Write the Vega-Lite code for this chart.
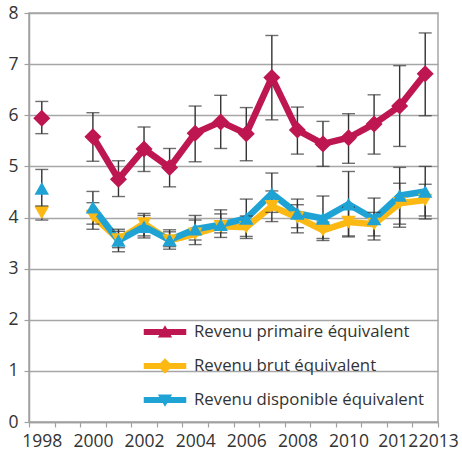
{
  "$schema": "https://vega.github.io/schema/vega-lite/v6.json",
  "width": 409,
  "height": 409,
  "autosize": "none",
  "padding": {"left": 29, "top": 13, "right": 24, "bottom": 34},
  "background": "white",
  "config": {
    "font": "Open Sans",
    "view": {"stroke": "#a6a6a6", "strokeWidth": 1.5},
    "axis": {"labelFont": "Open Sans", "labelColor": "#333333", "labelFontSize": 17.5, "domainColor": "#a0a0a0", "tickColor": "#a0a0a0", "domainWidth": 1.5, "tickWidth": 1.2, "gridColor": "#a6a6a6", "gridWidth": 1.5, "gridOpacity": 1},
    "legend": {"labelFont": "Open Sans", "labelColor": "#333333", "labelFontSize": 16.8, "labelLimit": 400}
  },
  "data": {"values": [
    {"year": "1998", "series": "Revenu primaire équivalent", "value": 5.94, "lo": 5.64, "hi": 6.27},
    {"year": "1999", "series": "Revenu primaire équivalent", "value": null, "lo": null, "hi": null},
    {"year": "2000", "series": "Revenu primaire équivalent", "value": 5.58, "lo": 5.10, "hi": 6.05},
    {"year": "2001", "series": "Revenu primaire équivalent", "value": 4.75, "lo": 4.41, "hi": 5.11},
    {"year": "2002", "series": "Revenu primaire équivalent", "value": 5.34, "lo": 4.90, "hi": 5.77},
    {"year": "2003", "series": "Revenu primaire équivalent", "value": 4.98, "lo": 4.60, "hi": 5.35},
    {"year": "2004", "series": "Revenu primaire équivalent", "value": 5.65, "lo": 5.09, "hi": 6.18},
    {"year": "2005", "series": "Revenu primaire équivalent", "value": 5.87, "lo": 5.35, "hi": 6.39},
    {"year": "2006", "series": "Revenu primaire équivalent", "value": 5.64, "lo": 5.11, "hi": 6.15},
    {"year": "2007", "series": "Revenu primaire équivalent", "value": 6.74, "lo": 5.91, "hi": 7.56},
    {"year": "2008", "series": "Revenu primaire équivalent", "value": 5.71, "lo": 5.24, "hi": 6.16},
    {"year": "2009", "series": "Revenu primaire équivalent", "value": 5.44, "lo": 5.00, "hi": 5.88},
    {"year": "2010", "series": "Revenu primaire équivalent", "value": 5.56, "lo": 5.06, "hi": 6.03},
    {"year": "2011", "series": "Revenu primaire équivalent", "value": 5.83, "lo": 5.24, "hi": 6.40},
    {"year": "2012", "series": "Revenu primaire équivalent", "value": 6.18, "lo": 5.39, "hi": 6.97},
    {"year": "2013", "series": "Revenu primaire équivalent", "value": 6.81, "lo": 5.99, "hi": 7.61},
    {"year": "1998", "series": "Revenu brut équivalent", "value": 4.09, "lo": 3.95, "hi": 4.22},
    {"year": "1999", "series": "Revenu brut équivalent", "value": null, "lo": null, "hi": null},
    {"year": "2000", "series": "Revenu brut équivalent", "value": 4.03, "lo": 3.77, "hi": 4.29},
    {"year": "2001", "series": "Revenu brut équivalent", "value": 3.57, "lo": 3.41, "hi": 3.73},
    {"year": "2002", "series": "Revenu brut équivalent", "value": 3.88, "lo": 3.64, "hi": 4.08},
    {"year": "2003", "series": "Revenu brut équivalent", "value": 3.55, "lo": 3.43, "hi": 3.72},
    {"year": "2004", "series": "Revenu brut équivalent", "value": 3.68, "lo": 3.47, "hi": 3.95},
    {"year": "2005", "series": "Revenu brut équivalent", "value": 3.83, "lo": 3.70, "hi": 4.07},
    {"year": "2006", "series": "Revenu brut équivalent", "value": 3.81, "lo": 3.59, "hi": 4.03},
    {"year": "2007", "series": "Revenu brut équivalent", "value": 4.22, "lo": 3.92, "hi": 4.52},
    {"year": "2008", "series": "Revenu brut équivalent", "value": 4.00, "lo": 3.70, "hi": 4.25},
    {"year": "2009", "series": "Revenu brut équivalent", "value": 3.75, "lo": 3.59, "hi": 3.91},
    {"year": "2010", "series": "Revenu brut équivalent", "value": 3.91, "lo": 3.64, "hi": 4.20},
    {"year": "2011", "series": "Revenu brut équivalent", "value": 3.87, "lo": 3.64, "hi": 4.10},
    {"year": "2012", "series": "Revenu brut équivalent", "value": 4.28, "lo": 3.81, "hi": 4.67},
    {"year": "2013", "series": "Revenu brut équivalent", "value": 4.34, "lo": 3.97, "hi": 4.65},
    {"year": "1998", "series": "Revenu disponible équivalent", "value": 4.57, "lo": 4.22, "hi": 4.94},
    {"year": "1999", "series": "Revenu disponible équivalent", "value": null, "lo": null, "hi": null},
    {"year": "2000", "series": "Revenu disponible équivalent", "value": 4.20, "lo": 3.87, "hi": 4.51},
    {"year": "2001", "series": "Revenu disponible équivalent", "value": 3.55, "lo": 3.33, "hi": 3.77},
    {"year": "2002", "series": "Revenu disponible équivalent", "value": 3.82, "lo": 3.60, "hi": 4.04},
    {"year": "2003", "series": "Revenu disponible équivalent", "value": 3.56, "lo": 3.38, "hi": 3.76},
    {"year": "2004", "series": "Revenu disponible équivalent", "value": 3.77, "lo": 3.56, "hi": 4.04},
    {"year": "2005", "series": "Revenu disponible équivalent", "value": 3.86, "lo": 3.61, "hi": 4.15},
    {"year": "2006", "series": "Revenu disponible équivalent", "value": 3.98, "lo": 3.63, "hi": 4.36},
    {"year": "2007", "series": "Revenu disponible équivalent", "value": 4.47, "lo": 4.10, "hi": 4.87},
    {"year": "2008", "series": "Revenu disponible équivalent", "value": 4.08, "lo": 3.80, "hi": 4.36},
    {"year": "2009", "series": "Revenu disponible équivalent", "value": 3.98, "lo": 3.55, "hi": 4.42},
    {"year": "2010", "series": "Revenu disponible équivalent", "value": 4.26, "lo": 3.62, "hi": 4.90},
    {"year": "2011", "series": "Revenu disponible équivalent", "value": 3.97, "lo": 3.56, "hi": 4.38},
    {"year": "2012", "series": "Revenu disponible équivalent", "value": 4.43, "lo": 3.87, "hi": 4.98},
    {"year": "2013", "series": "Revenu disponible équivalent", "value": 4.51, "lo": 4.03, "hi": 5.00}
  ]},
  "encoding": {
    "x": {
      "field": "year", "type": "ordinal", "sort": null,
      "scale": {"domain": ["1998", "1999", "2000", "2001", "2002", "2003", "2004", "2005", "2006", "2007", "2008", "2009", "2010", "2011", "2012", "2013"], "paddingInner": 0, "paddingOuter": 0},
      "axis": {"title": null, "labelAngle": 0, "tickBand": "extent", "tickSize": 5, "labelPadding": 5, "labelOverlap": false, "labelBound": false, "labelFlush": false,
        "labelOffset": {"condition": [{"test": "datum.value == '2013'", "value": 13}, {"test": "datum.value == '2012'", "value": -2}], "value": 0},
        "labelExpr": "(toNumber(datum.value) % 2 == 0 || datum.value == '2013') ? datum.value : ''"}
    },
    "y": {"field": "value", "type": "quantitative", "scale": {"domain": [0, 8], "nice": false},
      "axis": {"title": null, "values": [0, 1, 2, 3, 4, 5, 6, 7, 8], "tickSize": 5, "labelPadding": 6, "labelOverlap": false}}
  },
  "layer": [
    {
      "transform": [{"filter": "datum.value != null"}],
      "mark": {"type": "point", "filled": true, "opacity": 0},
      "encoding": {
        "color": {"field": "series", "type": "nominal",
          "scale": {"domain": ["Revenu primaire équivalent", "Revenu brut équivalent", "Revenu disponible équivalent"], "range": ["#be1650", "#fdb913", "#1fa3d5"]},
          "legend": {"title": null, "orient": "bottom-right", "offset": 13, "symbolSize": 1156, "symbolStrokeWidth": 0, "symbolOpacity": 1, "rowPadding": 8, "labelOffset": 12, "padding": 0}},
        "shape": {"field": "series", "type": "nominal",
          "legend": {"title": null, "orient": "bottom-right", "offset": 13, "symbolSize": 1156, "symbolStrokeWidth": 0, "symbolOpacity": 1, "rowPadding": 8, "labelOffset": 12, "padding": 0},
          "scale": {"domain": ["Revenu primaire équivalent", "Revenu brut équivalent", "Revenu disponible équivalent"],
            "range": ["M-1.25,-0.17H1.25V0.17H-1.25Z M0,-0.4L0.42,0.33H-0.42Z", "M-1.25,-0.17H1.25V0.17H-1.25Z M0,-0.45L0.45,0L0,0.45L-0.45,0Z", "M-1.25,-0.17H1.25V0.17H-1.25Z M-0.42,-0.33H0.42L0,0.4Z"]}}
      }
    },
    {
      "mark": {"type": "line", "strokeWidth": 6.5},
      "encoding": {
        "stroke": {"field": "series", "type": "nominal", "legend": null,
          "scale": {"domain": ["Revenu primaire équivalent", "Revenu brut équivalent", "Revenu disponible équivalent"], "range": ["#be1650", "#fdb913", "#1fa3d5"]}}
      }
    },
    {
      "transform": [{"filter": "datum.lo != null"}],
      "mark": {"type": "errorbar", "ticks": {"size": 13, "thickness": 1.4, "color": "#333333"}, "rule": {"strokeWidth": 1.4, "color": "#333333"}},
      "encoding": {
        "y": {"field": "lo", "type": "quantitative", "scale": {"domain": [0, 8], "nice": false},
          "axis": {"title": null, "values": [0, 1, 2, 3, 4, 5, 6, 7, 8], "tickSize": 5, "labelPadding": 6, "labelOverlap": false}},
        "y2": {"field": "hi"}
      }
    },
    {
      "transform": [{"filter": "datum.value != null && datum.series == 'Revenu primaire équivalent'"}],
      "mark": {"type": "point", "filled": true, "opacity": 1, "size": 290, "shape": "diamond", "color": "#be1650"}
    },
    {
      "transform": [{"filter": "datum.value != null && datum.series == 'Revenu brut équivalent'"}],
      "mark": {"type": "point", "filled": true, "opacity": 1, "size": 210, "shape": "triangle-down", "color": "#fdb913"}
    },
    {
      "transform": [{"filter": "datum.value != null && datum.series == 'Revenu disponible équivalent'"}],
      "mark": {"type": "point", "filled": true, "opacity": 1, "size": 210, "shape": "triangle-up", "color": "#1fa3d5"}
    }
  ]
}
